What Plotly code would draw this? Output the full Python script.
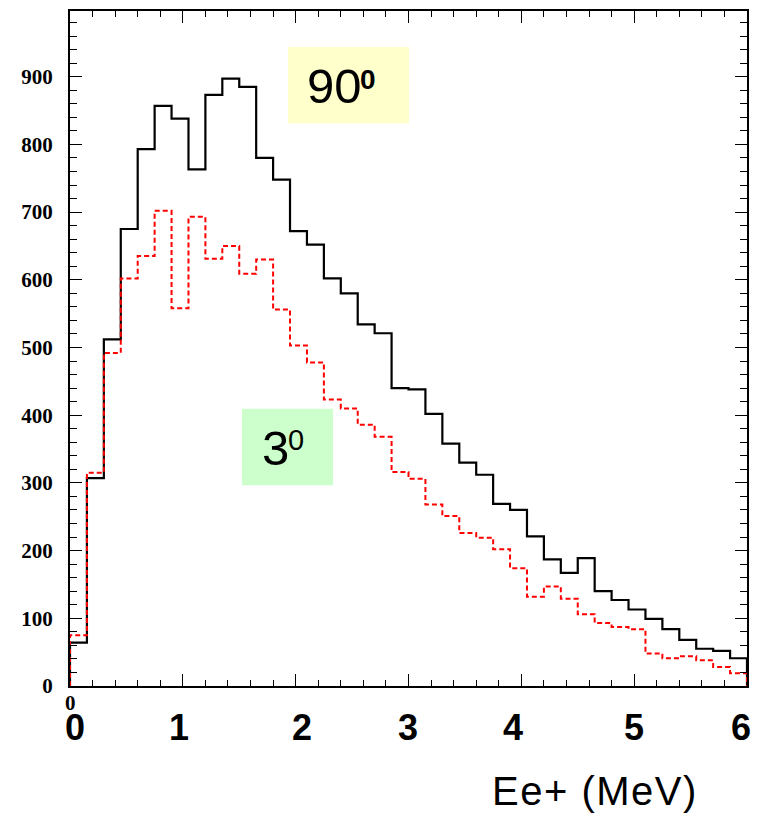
import numpy as np
import plotly.graph_objects as go

# ---- data ----
n_bins = 40
x_min, x_max = 0.0, 6.0
y_max = 997
counts_90 = [64, 307, 512, 675, 793, 857, 838, 763, 873, 897,
             885, 780, 748, 672, 652, 602, 580, 534, 521, 440,
             438, 402, 358, 330, 312, 269, 260, 221, 187, 167,
             189, 140, 127, 113, 99, 84, 68, 55, 52, 41]
counts_3 = [75, 315, 492, 602, 635, 702, 558, 693, 631, 650,
            609, 630, 556, 503, 478, 423, 410, 386, 368, 316,
            306, 268, 251, 226, 219, 202, 174, 132, 147, 129,
            106, 93, 87, 84, 48, 41, 44, 38, 28, 19]
x_tick_labels = ["0", "1", "2", "3", "4", "5", "6"]
y_tick_vals = list(range(0, 1000, 100))
x_title = "Ee+ (MeV)"

# ---- layout geometry (pixels) ----
W, H = 762, 815
L, R, T, B = 70, 15, 9, 129
PW, PH = W - L - R, H - T - B


def px_to_x(px):
    return (px - L) / PW * (x_max - x_min) + x_min


def py_to_y(py):
    return (T + PH - py) / PH * y_max


def py_to_paper(py):
    return (T + PH - py) / PH


edges = np.linspace(x_min, x_max, n_bins + 1)


def step_xy(counts):
    xs = [edges[0]] + list(edges[:-1]) + [edges[-1]]
    ys = [0] + list(counts) + [0]
    return xs, ys


fig = go.Figure()
x90, y90 = step_xy(counts_90)
fig.add_trace(go.Scatter(x=x90, y=y90, mode="lines", line_shape="hv",
                         line=dict(color="black", width=2.2), showlegend=False))
x3, y3 = step_xy(counts_3)
fig.add_trace(go.Scatter(x=x3, y=y3, mode="lines", line_shape="hv",
                         line=dict(color="red", width=2, dash="5px,3px"), showlegend=False))

SANS = "Liberation Sans, Arial"
SERIF = "Liberation Serif, Times New Roman"

# label boxes
fig.add_shape(type="rect", xref="x", yref="y", x0=px_to_x(288), x1=px_to_x(409),
              y0=py_to_y(121.7), y1=py_to_y(45),
              fillcolor="#FFFFCC", line=dict(width=0), layer="below")
fig.add_shape(type="rect", xref="x", yref="y", x0=px_to_x(242), x1=px_to_x(333),
              y0=py_to_y(484.7), y1=py_to_y(408),
              fillcolor="#CCFFCC", line=dict(width=0), layer="below")

# "90^0"
fig.add_annotation(x=px_to_x(305), y=py_to_y(84.5), xref="x", yref="y", text="90",
                   xanchor="left", yanchor="middle", showarrow=False,
                   font=dict(family=SANS, size=49, color="black"))
fig.add_annotation(x=px_to_x(358), y=py_to_y(77.3), xref="x", yref="y", text="0",
                   xanchor="left", yanchor="middle", showarrow=False,
                   font=dict(family=SANS, size=28, color="black", weight="bold"))
# "3^0"
fig.add_annotation(x=px_to_x(259.5), y=py_to_y(447.5), xref="x", yref="y", text="3",
                   xanchor="left", yanchor="middle", showarrow=False,
                   font=dict(family=SANS, size=49, color="black"))
fig.add_annotation(x=px_to_x(286), y=py_to_y(439), xref="x", yref="y", text="0",
                   xanchor="left", yanchor="middle", showarrow=False,
                   font=dict(family=SANS, size=29, color="black"))

# big x labels
x_shifts = [5, -4, 6, -1, -8, 0, -6]
for i, lab in enumerate(x_tick_labels):
    fig.add_annotation(x=i, y=py_to_paper(728), xref="x", yref="paper", text=lab,
                       showarrow=False, xshift=x_shifts[i], yanchor="middle",
                       font=dict(family=SANS, size=36, color="black", weight="bold"))
# small internal axis zero label
fig.add_annotation(x=0, y=py_to_paper(703), xref="x", yref="paper", text="0",
                   showarrow=False, yanchor="middle", borderpad=0,
                   font=dict(family=SERIF, size=21, color="black", weight="bold"))
# axis title
fig.add_annotation(x=(595 - L) / PW, y=py_to_paper(791.7), xref="paper", yref="paper",
                   xanchor="center", yanchor="middle",
                   text='<span style="letter-spacing:1.5px">' + x_title + '</span>',
                   showarrow=False,
                   font=dict(family=SANS, size=40, color="black"))

fig.update_layout(
    width=W, height=H,
    margin=dict(l=L, r=R, t=T, b=B),
    plot_bgcolor="white", paper_bgcolor="white",
    xaxis=dict(range=[x_min, x_max], showgrid=False, zeroline=False,
               showticklabels=False, ticks="inside", ticklen=12, tickwidth=1.3,
               tickcolor="black", dtick=1, tick0=0,
               minor=dict(ticks="inside", ticklen=6, dtick=0.2, tickwidth=1.3,
                          tickcolor="black", showgrid=False),
               showline=True, linewidth=2, linecolor="black", mirror="ticks"),
    yaxis=dict(range=[0, y_max], showgrid=False, zeroline=False,
               tickvals=y_tick_vals, ticktext=[str(v) for v in y_tick_vals],
               ticks="inside", ticklen=12, tickwidth=1.3, tickcolor="black",
               minor=dict(ticks="inside", ticklen=7, dtick=20, tickwidth=1.3,
                          tickcolor="black", showgrid=False),
               tickfont=dict(family=SERIF, size=21, color="black", weight="bold"),
               ticklabelstandoff=11,
               showline=True, linewidth=2, linecolor="black", mirror="ticks"),
)

fig.write_html("out.html")
